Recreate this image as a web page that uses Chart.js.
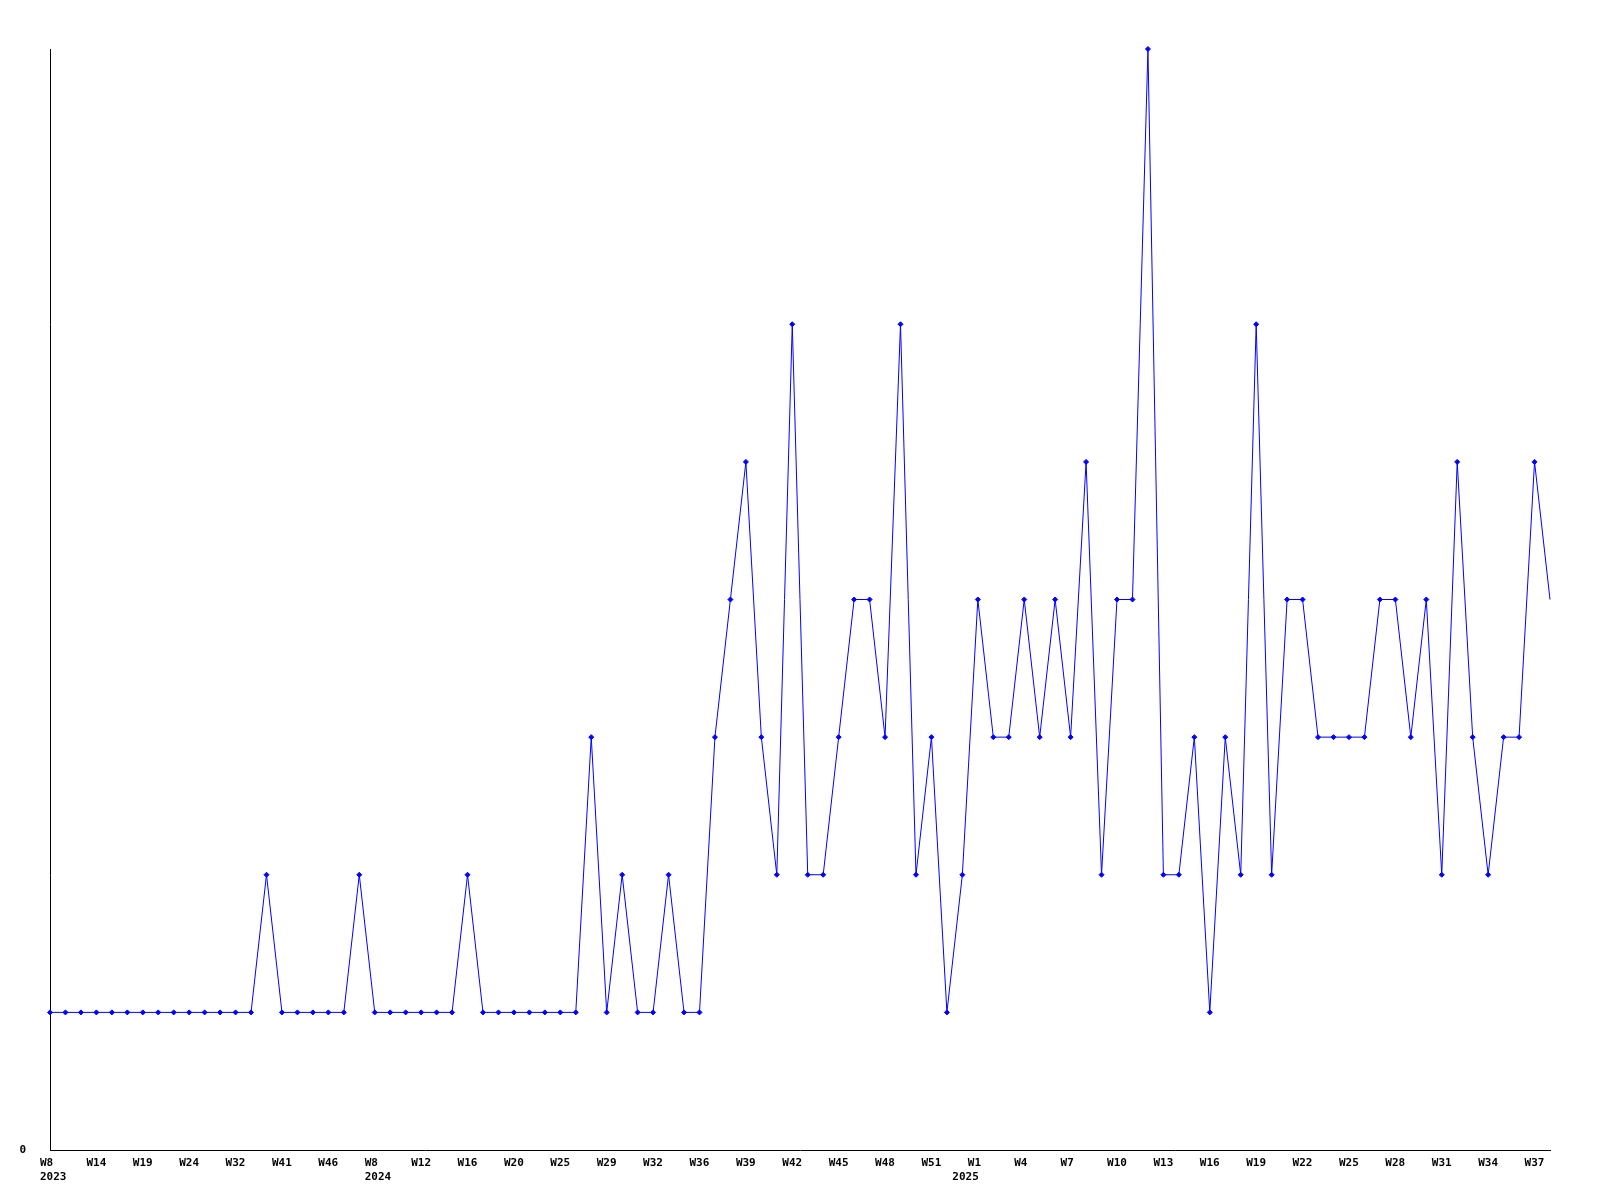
<!DOCTYPE html>
<html>
<head>
<meta charset="utf-8">
<script src="https://cdn.jsdelivr.net/npm/chart.js@4/dist/chart.umd.min.js"></script>
<style>
html,body{margin:0;padding:0;background:#fff;}
#wrap{width:1600px;height:1200px;}
</style>
</head>
<body>
<div id="wrap"><canvas id="c" width="1600" height="1200"></canvas></div>
<script>
// Series values, one per point (98 points)
const values = [
  1,1,1,1,1,1,1,1,1,1,1,1,1,1,
  2,1,1,1,1,1,2,1,1,1,1,1,1,2,
  1,1,1,1,1,1,1,3,1,2,1,1,2,1,1,
  3,4,5,3,2,6,2,2,3,4,4,3,6,2,3,1,2,
  4,3,3,4,3,4,3,5,2,4,4,8,2,2,3,1,3,2,6,2,
  4,4,3,3,3,3,4,4,3,4,2,5,3,2,3,3,5,4
];
// Week tick labels shown on every third point
const weekLabels = ['W8','W14','W19','W24','W32','W41','W46','W8','W12','W16','W20','W25',
  'W29','W32','W36','W39','W42','W45','W48','W51','W1','W4','W7','W10','W13','W16',
  'W19','W22','W25','W28','W31','W34','W37'];
// Year labels: [point index, year]
const yearIndex = [0, 21, 59];
const yearText = ['2023', '2024', '2025'];
const tickEvery = 3;
const yMax = 8;

const categories = values.map((v, i) => {
  const w = (i % tickEvery === 0 && weekLabels[i / tickEvery] !== undefined) ? weekLabels[i / tickEvery] : '';
  const yi = yearIndex.indexOf(i);
  if (yi >= 0) return [w, yearText[yi]];
  return w;
});

const monoFont = {family: "'DejaVu Sans Mono', monospace", size: 11, weight: 'bold', lineHeight: 1.3};
const lastIdx = values.length - 1;

new Chart(document.getElementById('c'), {
  type: 'line',
  data: {
    labels: categories,
    datasets: [{
      data: values,
      borderColor: '#0000ff',
      backgroundColor: '#0000ff',
      borderWidth: 1,
      tension: 0,
      fill: false,
      pointStyle: 'rectRot',
      pointRadius: (ctx) => ctx.dataIndex === lastIdx ? 0 : 2.5,
      pointBorderWidth: 1,
      pointHoverRadius: 0,
      clip: false
    }]
  },
  options: {
    responsive: false,
    animation: false,
    events: [],
    layout: {padding: {top: 49, right: 50, left: 0, bottom: 0}},
    plugins: {legend: {display: false}, tooltip: {enabled: false}},
    scales: {
      x: {
        type: 'category',
        offset: false,
        grid: {display: false, drawTicks: false},
        border: {display: true, color: '#000', width: 1},
        ticks: {
          autoSkip: false,
          maxRotation: 0,
          minRotation: 0,
          align: 'start',
          labelOffset: -10,
          padding: 6,
          color: '#000',
          font: monoFont
        },
        afterFit: (s) => { s.height = 50; s.paddingLeft = 0; s.paddingRight = 0; }
      },
      y: {
        min: 0,
        max: yMax,
        grid: {display: false, drawTicks: false},
        border: {display: true, color: '#000', width: 1},
        ticks: {
          stepSize: 1,
          padding: 24,
          color: '#000',
          font: monoFont,
          callback: (v) => v === 0 ? '0' : ''
        },
        afterFit: (s) => { s.width = 50; s.paddingTop = 0; s.paddingBottom = 0; }
      }
    }
  }
});
</script>
</body>
</html>
